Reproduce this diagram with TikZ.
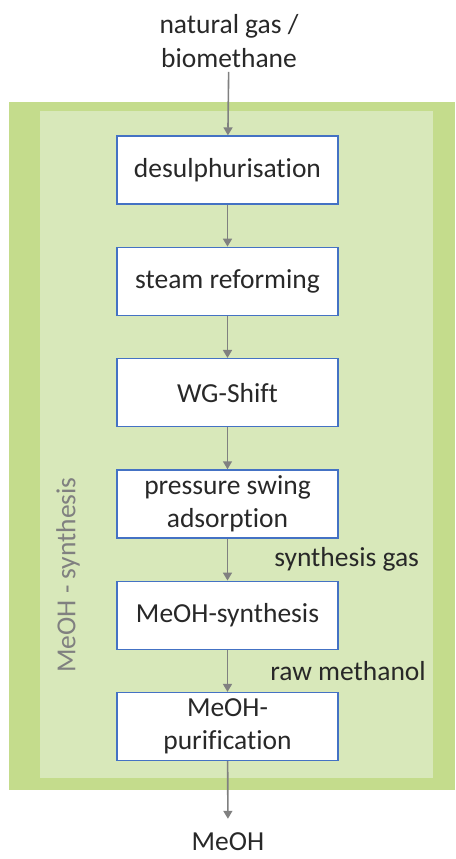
\documentclass[tikz,border=0pt]{standalone}
\usepackage{fontspec}
\setmainfont{Carlito}[Ligatures=NoCommon]
\usetikzlibrary{arrows.meta,positioning}

\definecolor{boxblue}{RGB}{68,114,196}
\definecolor{outergreen}{RGB}{196,220,140}
\definecolor{innergreen}{RGB}{216,232,186}
\definecolor{arrowgray}{RGB}{128,128,128}
\definecolor{textgray}{RGB}{40,40,40}

\begin{document}
\begin{tikzpicture}[
  x=1pt,y=1pt,
  stage/.style={draw=boxblue,line width=1.3pt,fill=white,text=textgray,
    align=center,minimum width=221pt,minimum height=68pt,
    font=\fontsize{27.5}{33}\selectfont},
  flow/.style={-{Triangle[length=8pt,width=9pt]},draw=arrowgray,line width=1.6pt},
  flowlabel/.style={text=textgray,inner sep=0pt,font=\fontsize{27.5}{34}\selectfont},
  node distance=42pt
]
  \useasboundingbox (0,0) rectangle (455,-859);
  \fill[outergreen] (9,-102) rectangle (455,-790);
  \fill[innergreen] (40,-111) rectangle (433,-778);
  \node[text=arrowgray,rotate=90,font=\fontsize{27.5}{33}\selectfont] (block) at (68,-575) {MeOH - synthesis};

  \node[flowlabel,align=center] (feed) at (229,-41) {natural gas /\\biomethane};
  \node[stage] (desulph) at (227.5,-170) {desulphurisation};
  \node[stage,below=of desulph] (reform) {steam reforming};
  \node[stage,below=of reform] (shift) {WG-Shift};
  \node[stage,below=of shift] (psa) {pressure swing\\adsorption};
  \node[stage,below=of psa] (synth) {MeOH-synthesis};
  \node[stage,below=of synth] (purif) {MeOH-\\purification};
  \node[flowlabel] (meoh) at (228,-842) {MeOH};

  \draw[flow,shorten <=4pt] (feed) -- (desulph);
  \draw[flow] (desulph) -- (reform);
  \draw[flow] (reform) -- (shift);
  \draw[flow] (shift) -- (psa);
  \draw[flow] (psa) -- node[flowlabel,right=46pt] (gas) {synthesis gas} (synth);
  \draw[flow] (synth) -- node[flowlabel,right=42pt] (raw) {raw methanol} (purif);
  \draw[flow,shorten >=14pt] (purif) -- (meoh);
\end{tikzpicture}
\end{document}
